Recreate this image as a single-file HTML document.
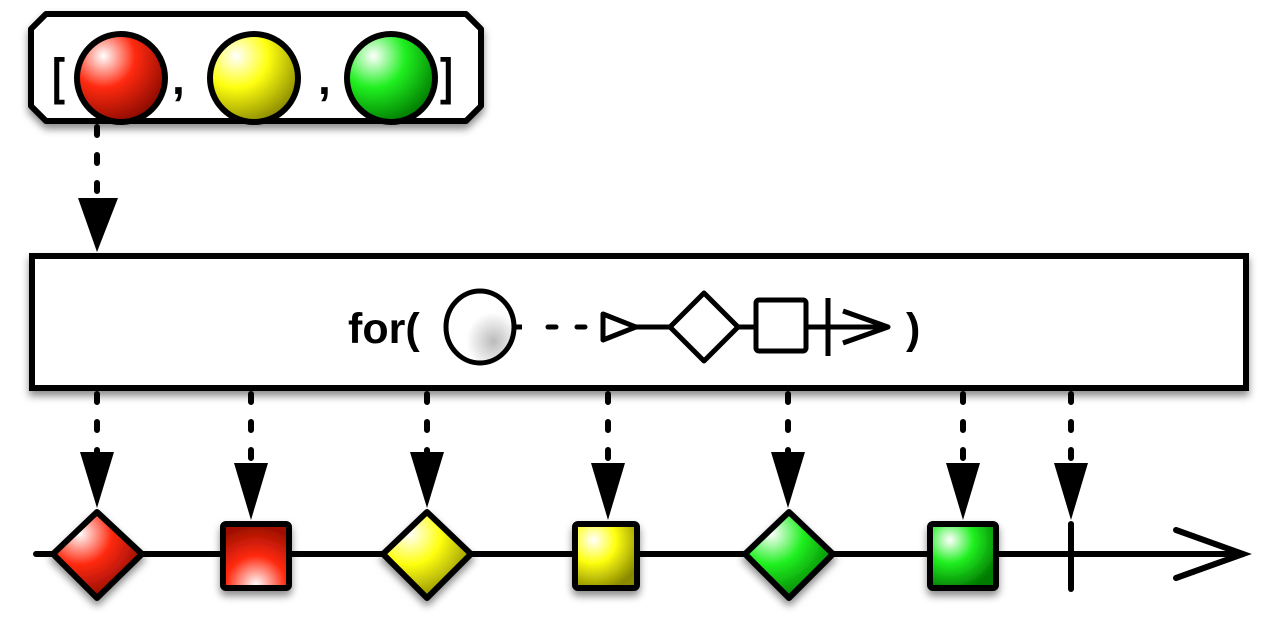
<!DOCTYPE html>
<html><head><meta charset="utf-8"><style>html,body{margin:0;padding:0;background:#fff;}svg{display:block}</style></head>
<body>
<svg width="1280" height="620" viewBox="0 0 1280 620" xmlns="http://www.w3.org/2000/svg">
<defs>
<radialGradient id="gr" cx="0.3" cy="0.25" r="0.8"><stop offset="0" stop-color="#fff"/><stop offset="0.45" stop-color="#ff2a10"/><stop offset="1" stop-color="#8a0a00"/></radialGradient>
<radialGradient id="gy" cx="0.3" cy="0.25" r="0.8"><stop offset="0" stop-color="#fff"/><stop offset="0.45" stop-color="#ffff10"/><stop offset="1" stop-color="#8a8a00"/></radialGradient>
<radialGradient id="gg" cx="0.3" cy="0.25" r="0.8"><stop offset="0" stop-color="#fff"/><stop offset="0.45" stop-color="#20f020"/><stop offset="1" stop-color="#007a00"/></radialGradient>
<radialGradient id="gw" cx="0.7" cy="0.7" r="0.8"><stop offset="0" stop-color="#bbb"/><stop offset="0.5" stop-color="#fff"/><stop offset="1" stop-color="#fff"/></radialGradient>
<radialGradient id="sr" cx="0.5" cy="0.95" r="0.9"><stop offset="0" stop-color="#fff"/><stop offset="0.5" stop-color="#ff2a10"/><stop offset="1" stop-color="#a01000"/></radialGradient>
<filter id="sh" x="-20%" y="-20%" width="140%" height="150%"><feDropShadow dx="0" dy="5" stdDeviation="4" flood-color="#000" flood-opacity="0.45"/></filter>
</defs>
<g stroke="#000" stroke-width="6" stroke-linejoin="round">
<path d="M46 14 H466 L481 29 V106 L466 121 H46 L31 106 V29 Z" fill="#fff" filter="url(#sh)"/>
<circle cx="121" cy="78" r="44" fill="url(#gr)"/>
<circle cx="254" cy="78" r="44" fill="url(#gy)"/>
<circle cx="391" cy="78" r="44" fill="url(#gg)"/>
</g>
<g font-family="Liberation Sans, sans-serif" font-weight="bold" font-size="46" fill="#000">
<text x="52" y="94" transform="translate(52 94) scale(0.85 1.1) translate(-52 -94)">[</text>
<text x="172" y="94">,</text>
<text x="318" y="94">,</text>
<text x="440" y="94" transform="translate(440 94) scale(0.85 1.1) translate(-440 -94)">]</text>
</g>
<line x1="97" y1="127" x2="97" y2="200" stroke="#000" stroke-width="6" stroke-dasharray="8 20" stroke-linecap="round"/>
<polygon points="78,198 118,198 97,252" fill="#000"/>
<rect x="32" y="256" width="1214" height="132" fill="#fff" stroke="#000" stroke-width="6" filter="url(#sh)"/>
<text x="348" y="343" font-family="Liberation Sans, sans-serif" font-weight="bold" font-size="43">for(</text>
<text x="906" y="343" font-family="Liberation Sans, sans-serif" font-weight="bold" font-size="43">)</text>
<g stroke="#000" stroke-width="5" stroke-linejoin="round" fill="none">
<ellipse cx="480" cy="327" rx="34" ry="36" fill="url(#gw)"/>
<line x1="514" y1="327" x2="522" y2="327"/>
<line x1="548" y1="327" x2="556" y2="327" stroke-linecap="round"/>
<line x1="577" y1="327" x2="585" y2="327" stroke-linecap="round"/>
<polygon points="603,314 603,340 636,327" fill="#fff"/>
<line x1="636" y1="327" x2="670" y2="327"/>
<polygon points="704,293 738,327 704,361 670,327" fill="#fff"/>
<line x1="738" y1="327" x2="756" y2="327"/>
<rect x="756" y="300" width="50" height="51" rx="3" fill="#fff"/>
<line x1="806" y1="327" x2="888" y2="327"/>
<line x1="828" y1="298" x2="828" y2="356"/>
<polyline points="843,311 888,327 843,343"/>
</g>
<g stroke="#000" stroke-width="6" stroke-dasharray="8 20" stroke-linecap="round">
<line x1="97" y1="394" x2="97" y2="455"/>
<line x1="251" y1="394" x2="251" y2="465"/>
<line x1="427" y1="394" x2="427" y2="455"/>
<line x1="608" y1="394" x2="608" y2="465"/>
<line x1="788" y1="394" x2="788" y2="455"/>
<line x1="963" y1="394" x2="963" y2="465"/>
<line x1="1071" y1="394" x2="1071" y2="465"/>
</g>
<g fill="#000">
<polygon points="80,452 114,452 97,508"/>
<polygon points="234,463 268,463 251,520"/>
<polygon points="410,452 444,452 427,508"/>
<polygon points="591,463 625,463 608,520"/>
<polygon points="771,452 805,452 788,508"/>
<polygon points="946,463 980,463 963,520"/>
<polygon points="1054,463 1088,463 1071,520"/>
</g>
<g stroke="#000" stroke-width="6" fill="none" stroke-linecap="round">
<line x1="36" y1="554" x2="1243" y2="554"/>
<polyline points="1176,530 1243,554 1176,578"/>
<line x1="1071" y1="524" x2="1071" y2="589"/>
</g>
<g stroke="#000" stroke-width="6" stroke-linejoin="round" filter="url(#sh)">
<polygon points="97,512 142,554 97,598 53,554" fill="url(#gr)"/>
<rect x="223" y="524" width="66" height="64" rx="3" fill="url(#sr)"/>
<polygon points="427,512 471,554 427,598 383,554" fill="url(#gy)"/>
<rect x="575" y="524" width="62" height="64" rx="3" fill="url(#gy)"/>
<polygon points="789,512 833,554 789,598 745,554" fill="url(#gg)"/>
<rect x="930" y="524" width="66" height="64" rx="3" fill="url(#gg)"/>
</g>
</svg>
</body></html>
